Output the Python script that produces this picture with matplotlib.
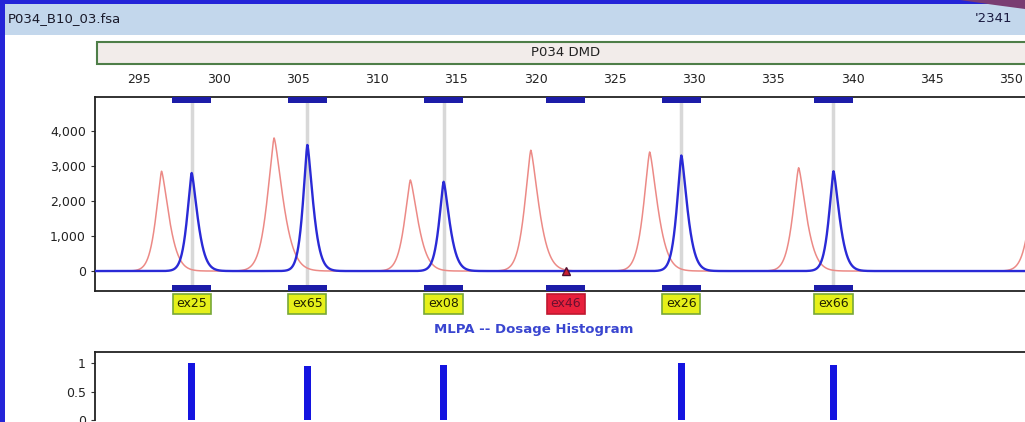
import matplotlib
matplotlib.use("Agg")
import matplotlib.pyplot as plt
from matplotlib.patches import Rectangle, Polygon
import numpy as np

plt.rcParams['font.family'] = ['DejaVu Sans']

# --- data ---
file_name = "P034_B10_03.fsa"
run_id = "'2341"
panel_name = "P034 DMD"
size_ticks = [295, 300, 305, 310, 315, 320, 325, 330, 335, 340, 345, 350]

probe_names = ["ex25", "ex65", "ex08", "ex46", "ex26", "ex66"]
probe_pos = [298.3, 305.6, 314.2, 321.9, 329.2, 338.8]
probe_deleted = [False, False, False, True, False, False]

# reference trace (red) peaks: position (bp), height (RFU), width (bp)
ref_pos = [296.4, 303.5, 312.1, 319.7, 327.2, 336.6, 351.6]
ref_height = [2850, 3800, 2600, 3450, 3400, 2950, 3000]
ref_width = [0.52, 0.62, 0.54, 0.56, 0.56, 0.54, 0.58]

# sample trace (blue) peaks
smp_pos = [298.3, 305.6, 314.2, 329.2, 338.8]
smp_height = [2800, 3600, 2550, 3300, 2850]
smp_width = [0.42, 0.40, 0.42, 0.42, 0.42]

# dosage ratios
dose_pos = [298.3, 305.6, 314.2, 329.2, 338.8]
dose_ratio = [1.01, 0.95, 0.97, 1.01, 0.97]

W, H = 1025, 422


def fx(px):
    return px / W


def fy(py):
    return 1 - py / H


def trace(x, pos, height, width):
    # pointed peaks with a slightly longer right-hand tail
    y = np.zeros_like(x)
    for c, h, w in zip(pos, height, width):
        d = x - c
        d = np.where(d > 0, d / (1.3 * w), -d / w)
        y += h * np.exp(-d ** 1.4)
    return y


fig = plt.figure(figsize=(W / 100, H / 100), dpi=100)
fig.patch.set_facecolor('white')

# window chrome
fig.patches.append(Rectangle((0, 0), fx(5), 1, transform=fig.transFigure,
                             facecolor='#2424d8', edgecolor='none'))
fig.patches.append(Rectangle((0, fy(4)), 1, 4 / H, transform=fig.transFigure,
                             facecolor='#2424d8', edgecolor='none'))
fig.patches.append(Rectangle((fx(5), fy(35)), 1, 31 / H, transform=fig.transFigure,
                             facecolor='#c3d7ec', edgecolor='none'))
fig.patches.append(Polygon([[fx(960), 1], [1, 1], [1, fy(9)], [fx(995), fy(5)]],
                           closed=True, transform=fig.transFigure,
                           facecolor='#7a3d72', edgecolor='none'))
fig.text(fx(8), fy(19), file_name, fontsize=9.5, color='#1a1a2a', va='center')
fig.text(fx(1012), fy(19), run_id, fontsize=9.5, color='#1a1a40', va='center', ha='right')

# panel bar
fig.patches.append(Rectangle((fx(97), fy(64)), 1, 22 / H, transform=fig.transFigure,
                             facecolor='#f2ecea', edgecolor='#4e7e48', linewidth=1.5))
fig.text(fx(566), fy(53), panel_name, fontsize=9.5, color='#222222',
         ha='center', va='center')

xmin, xmax = 292.2, 351.2

# main electropherogram
ax = fig.add_axes([fx(95), fy(291), fx(1030) - fx(95), (291 - 97) / H])
x = np.arange(xmin - 1, xmax + 1, 0.01)
ax.plot(x, trace(x, ref_pos, ref_height, ref_width), color='#ec8a86', lw=1.1, zorder=2)
ax.plot(x, trace(x, smp_pos, smp_height, smp_width), color='#2a2ad6', lw=1.7, zorder=3)

ax.set_xlim(xmin, xmax)
ax.set_ylim(-570, 4970)
ax.set_yticks([0, 1000, 2000, 3000, 4000])
ax.set_yticklabels(['{:,}'.format(v) for v in [0, 1000, 2000, 3000, 4000]])
ax.tick_params(axis='y', labelsize=9, length=3, colors='#333333', labelcolor='#222222')
ax.xaxis.tick_top()
ax.set_xticks(size_ticks)
ax.tick_params(axis='x', length=0, pad=8, labelsize=9, labelcolor='#222222')
ax.spines['right'].set_visible(False)
for s in ['top', 'bottom', 'left']:
    ax.spines[s].set_color('#222222')
    ax.spines[s].set_linewidth(1.3)

trans = ax.get_xaxis_transform()
bin_w = 2.45
for name, pos, deleted in zip(probe_names, probe_pos, probe_deleted):
    if not deleted:
        ax.plot([pos, pos], [0.03, 0.97], transform=trans, color='#d8d8d8', lw=2.5, zorder=1)
    for yb in (0.0, 0.97):
        ax.add_patch(Rectangle((pos - bin_w / 2, yb), bin_w, 0.03, transform=trans,
                               facecolor='#1c1ca8', edgecolor='none', zorder=4,
                               clip_on=False))
    if deleted:
        ax.plot(pos, 0, marker='^', ms=6, color='#cc2030', mec='#501030', zorder=5)
        fc, ec, tc = '#e8203c', '#c01830', '#6a1030'
    else:
        fc, ec, tc = '#e6f01a', '#78a838', '#222200'
    ax.text(pos, -0.066, name, transform=trans, ha='center', va='center', fontsize=9,
            color=tc, bbox=dict(boxstyle='square,pad=0.3', facecolor=fc, edgecolor=ec, lw=1.2))

fig.text(fx(534), fy(330), "MLPA -- Dosage Histogram", fontsize=9.5, color='#3a46d0',
         ha='center', va='center', fontweight='bold')

# dosage histogram
ax2 = fig.add_axes([fx(95), fy(420), fx(1030) - fx(95), (420 - 352) / H])
ax2.bar(dose_pos, dose_ratio, width=0.45, color='#1414e0', zorder=3)
ax2.set_xlim(xmin, xmax)
ax2.set_ylim(0, 1.2)
ax2.set_yticks([0, 0.5, 1])
ax2.set_yticklabels(['0', '0.5', '1'])
ax2.set_xticks([])
ax2.tick_params(axis='y', labelsize=9, length=3, colors='#333333', labelcolor='#222222')
ax2.spines['right'].set_visible(False)
ax2.spines['bottom'].set_visible(False)
for s in ['top', 'left']:
    ax2.spines[s].set_color('#222222')
    ax2.spines[s].set_linewidth(1.3)

fig.savefig('out.png', dpi=100)
